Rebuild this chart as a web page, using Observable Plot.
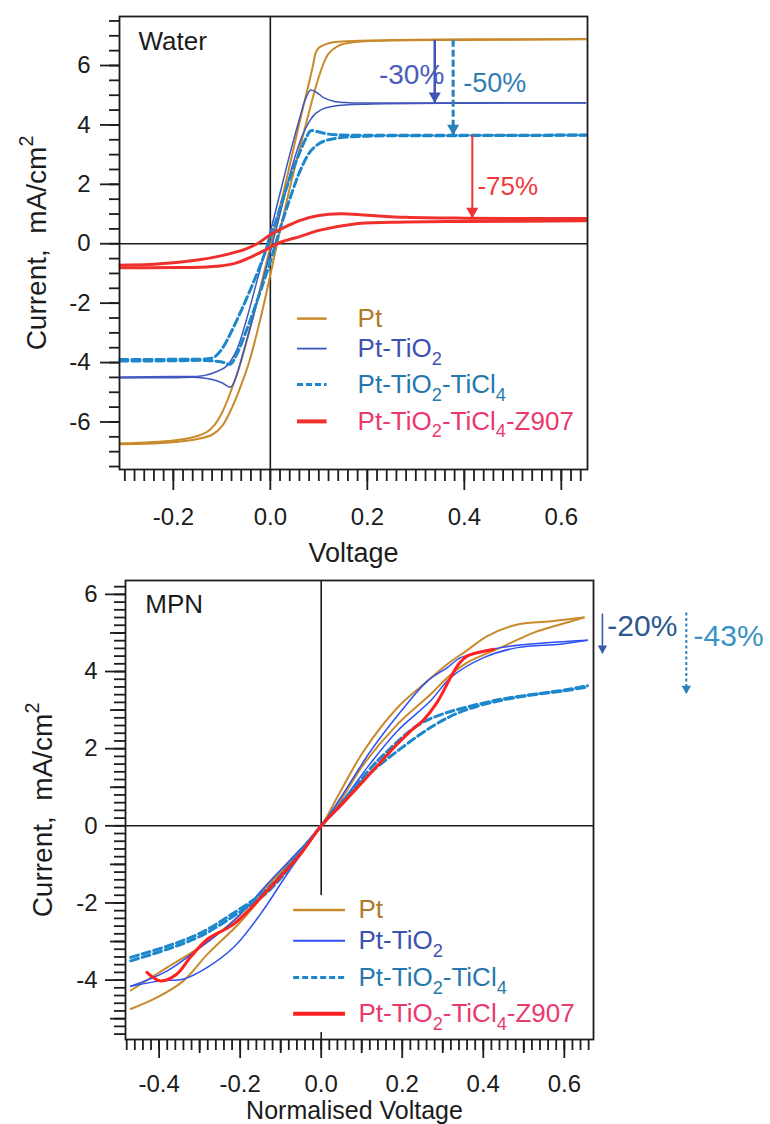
<!DOCTYPE html>
<html>
<head>
<meta charset="utf-8">
<script src="https://cdn.jsdelivr.net/npm/d3@7"></script>
<script src="https://cdn.jsdelivr.net/npm/@observablehq/plot@0.6"></script>
<style>
  body { margin: 0; background: #fff; }
  #chart { position: relative; width: 770px; height: 1124px; overflow: hidden; }
  #chart svg { display: block; }
</style>
</head>
<body>
<div id="chart"></div>
<script>
// ---------------- DATA ----------------
const seriesNames = ["Pt", "Pt-TiO2", "Pt-TiO2-TiCl4", "Pt-TiO2-TiCl4-Z907"];
const legendLabels = ["Pt", "Pt-TiO_{2}", "Pt-TiO_{2}-TiCl_{4}", "Pt-TiO_{2}-TiCl_{4}-Z907"];

// Water panel: voltage (V), current (mA/cm2), two sweep branches per electrode
const waterPtA = [[-0.31,-6.75],[-0.2,-6.68],[-0.15,-6.57],[-0.12,-6.43],[-0.1,-6.15],[-0.08,-5.55],[-0.06,-4.75],[-0.044,-4.0],[-0.02,-2.5],[0.0,-1.05],[0.01,-0.3],[0.042,2.0],[0.073,4.0],[0.095,5.35],[0.107,5.95],[0.12,6.4],[0.14,6.66],[0.17,6.78],[0.25,6.84],[0.4,6.86],[0.65,6.88]];
const waterPtB = [[-0.31,-6.72],[-0.2,-6.62],[-0.15,-6.47],[-0.13,-6.33],[-0.115,-6.1],[-0.1,-5.7],[-0.082,-5.0],[-0.061,-4.0],[-0.03,-2.1],[0.0,-0.1],[0.031,2.0],[0.059,4.0],[0.088,6.0],[0.093,6.4],[0.1,6.6],[0.115,6.72],[0.13,6.78],[0.16,6.82],[0.25,6.86],[0.4,6.88],[0.65,6.89]];
const waterTiO2A = [[-0.31,-4.52],[-0.2,-4.51],[-0.15,-4.5],[-0.12,-4.57],[-0.1,-4.68],[-0.082,-4.83],[-0.07,-4.45],[-0.055,-3.6],[-0.035,-2.45],[-0.01,-0.9],[0.02,1.0],[0.045,2.6],[0.065,3.6],[0.08,4.1],[0.093,4.38],[0.11,4.55],[0.14,4.65],[0.2,4.7],[0.4,4.73],[0.65,4.74]];
const waterTiO2B = [[-0.31,-4.49],[-0.2,-4.47],[-0.137,-4.44],[-0.11,-4.3],[-0.09,-4.12],[-0.07,-3.6],[-0.05,-2.6],[-0.025,-1.1],[0.0,0.4],[0.02,1.7],[0.04,3.0],[0.06,4.2],[0.072,4.85],[0.083,5.17],[0.095,5.1],[0.11,4.92],[0.13,4.8],[0.16,4.75],[0.3,4.74],[0.65,4.75]];
const waterTiCl4A = [[-0.31,-3.95],[-0.2,-3.94],[-0.13,-3.93],[-0.1,-3.98],[-0.082,-4.05],[-0.07,-3.75],[-0.05,-2.95],[-0.03,-2.05],[0.0,-0.6],[0.02,0.5],[0.04,1.5],[0.06,2.4],[0.08,3.05],[0.093,3.28],[0.11,3.45],[0.14,3.56],[0.2,3.62],[0.4,3.64],[0.65,3.65]];
const waterTiCl4B = [[-0.31,-3.9],[-0.2,-3.89],[-0.13,-3.87],[-0.116,-3.82],[-0.1,-3.55],[-0.08,-2.95],[-0.06,-2.25],[-0.04,-1.5],[-0.02,-0.7],[0.0,0.2],[0.02,1.2],[0.04,2.2],[0.06,3.05],[0.075,3.6],[0.083,3.8],[0.1,3.76],[0.12,3.69],[0.15,3.66],[0.3,3.65],[0.65,3.66]];
const waterZ907A = [[-0.31,-0.72],[-0.25,-0.7],[-0.2,-0.64],[-0.15,-0.55],[-0.1,-0.4],[-0.05,-0.17],[-0.027,0.0],[0.0,0.3],[0.03,0.56],[0.06,0.78],[0.1,0.95],[0.145,1.01],[0.2,0.96],[0.28,0.89],[0.4,0.86],[0.65,0.85]];
const waterZ907B = [[-0.31,-0.81],[-0.2,-0.8],[-0.144,-0.79],[-0.1,-0.74],[-0.075,-0.67],[-0.04,-0.45],[-0.006,-0.17],[0.021,0.05],[0.062,0.25],[0.1,0.45],[0.17,0.66],[0.25,0.72],[0.4,0.75],[0.65,0.77]];

// MPN panel: normalised voltage, current (mA/cm2)
const mpnPtA = [[-0.47,-4.27],[-0.38,-3.67],[-0.3,-3.15],[-0.216,-2.46],[-0.15,-1.75],[-0.08,-0.95],[0.0,0.0],[0.04,0.75],[0.105,1.94],[0.188,3.06],[0.253,3.67],[0.311,4.19],[0.36,4.55],[0.41,4.92],[0.484,5.22],[0.574,5.31],[0.648,5.4]];
const mpnPtB = [[-0.47,-4.75],[-0.405,-4.45],[-0.34,-4.02],[-0.28,-3.32],[-0.2,-2.5],[-0.1,-1.25],[0.0,0.0],[0.05,0.7],[0.105,1.6],[0.188,2.63],[0.27,3.41],[0.311,3.84],[0.36,4.23],[0.443,4.62],[0.525,5.01],[0.6,5.25],[0.648,5.4]];
const mpnTiO2A = [[-0.47,-4.16],[-0.38,-3.76],[-0.298,-3.15],[-0.216,-2.46],[-0.133,-1.51],[-0.06,-0.7],[0.0,0.0],[0.048,0.73],[0.122,1.94],[0.204,3.06],[0.262,3.75],[0.311,4.1],[0.344,4.36],[0.443,4.62],[0.566,4.75],[0.657,4.81]];
const mpnTiO2B = [[-0.47,-4.16],[-0.397,-4.02],[-0.339,-3.97],[-0.281,-3.67],[-0.216,-3.15],[-0.15,-2.29],[-0.084,-1.25],[-0.03,-0.45],[0.0,0.0],[0.06,0.75],[0.12,1.6],[0.188,2.46],[0.27,3.24],[0.319,3.84],[0.401,4.36],[0.484,4.62],[0.59,4.71],[0.657,4.81]];
const mpnTiCl4A = [[-0.47,-3.41],[-0.38,-3.12],[-0.298,-2.78],[-0.216,-2.26],[-0.133,-1.64],[-0.068,-0.88],[0.0,0.0],[0.05,0.6],[0.114,1.4],[0.155,1.85],[0.237,2.6],[0.3,2.9],[0.36,3.08],[0.443,3.28],[0.525,3.41],[0.6,3.52],[0.657,3.63]];
const mpnTiCl4B = [[-0.47,-3.5],[-0.38,-3.2],[-0.298,-2.86],[-0.216,-2.34],[-0.133,-1.72],[-0.068,-0.95],[0.0,0.0],[0.05,0.55],[0.114,1.3],[0.196,2.0],[0.278,2.6],[0.35,2.98],[0.443,3.25],[0.525,3.4],[0.6,3.5],[0.657,3.6]];
const mpnZ907 = [[-0.43,-3.8],[-0.397,-4.02],[-0.356,-3.84],[-0.323,-3.41],[-0.281,-2.94],[-0.216,-2.55],[-0.133,-1.68],[-0.051,-0.73],[0.0,0.0],[0.05,0.55],[0.105,1.17],[0.188,2.12],[0.22,2.45],[0.253,2.75],[0.286,3.2],[0.319,3.84],[0.34,4.2],[0.36,4.4],[0.39,4.5],[0.426,4.58]];

// Tick labels
const waterYTicks = [-6, -4, -2, 0, 2, 4, 6];
const waterXTicks = [-0.2, 0.0, 0.2, 0.4, 0.6];
const mpnYTicks = [-4, -2, 0, 2, 4, 6];
const mpnYMidTicks = [-5, -3, -1, 1, 3, 5];
const mpnXTicks = [-0.4, -0.2, 0.0, 0.2, 0.4, 0.6];
const mpnXMidTicks = [-0.3, -0.1, 0.1, 0.3, 0.5];

// Percentage drops annotated on the plots
const waterDropLabels = ["-30%", "-50%", "-75%"];
const mpnDropLabels = ["-20%", "-43%"];

// ---------------- STYLE ----------------
const FONT = "'Liberation Sans', Arial, Helvetica, sans-serif";
const INK = "#1c1c1c";
const TICKFS = 24;
const legendTextColors = ["#b07a28", "#3d52b0", "#2677ad", "#ea3a6c"];
const waterStyles = [
  {stroke: "#c98a2b", width: 2, dash: null},
  {stroke: "#3f56bd", width: 1.5, dash: null},
  {stroke: "#1d87cc", width: 3, dash: "8,4"},
  {stroke: "#f0302c", width: 3, dash: null}
];
const mpnStyles = [
  {stroke: "#c98a2b", width: 2, dash: null},
  {stroke: "#2d50f2", width: 1.5, dash: null},
  {stroke: "#1d87cc", width: 3, dash: "8,4"},
  {stroke: "#ff2020", width: 3, dash: null}
];
const swatchWidths = [2.5, 1.8, 3, 4];

// build long tables
function toRows(curves) {
  const rows = [];
  curves.forEach(([series, branch, pts]) => pts.forEach(([v, i]) => rows.push({series, branch, v, i})));
  return rows;
}
const waterRows = toRows([
  [seriesNames[0], "a", waterPtA], [seriesNames[0], "b", waterPtB],
  [seriesNames[1], "a", waterTiO2A], [seriesNames[1], "b", waterTiO2B],
  [seriesNames[2], "a", waterTiCl4A], [seriesNames[2], "b", waterTiCl4B],
  [seriesNames[3], "a", waterZ907A], [seriesNames[3], "b", waterZ907B]
]);
const mpnRows = toRows([
  [seriesNames[0], "a", mpnPtA], [seriesNames[0], "b", mpnPtB],
  [seriesNames[1], "a", mpnTiO2A], [seriesNames[1], "b", mpnTiO2B],
  [seriesNames[2], "a", mpnTiCl4A], [seriesNames[2], "b", mpnTiCl4B],
  [seriesNames[3], "a", mpnZ907]
]);

function curveMarks(rows, styles) {
  return seriesNames.map((s, k) => Plot.line(rows.filter(d => d.series === s), {
    x: "v", y: "i", z: "branch", stroke: styles[k].stroke, strokeWidth: styles[k].width,
    strokeDasharray: styles[k].dash ?? undefined, curve: "catmull-rom", strokeLinejoin: "round"
  }));
}

function legendMarks(styles, ys, x1, x2, tx) {
  const marks = [];
  seriesNames.forEach((s, k) => {
    const row = [{y: ys[k], x1, x2, tx, label: legendLabels[k]}];
    marks.push(Plot.ruleY(row, {y: "y", x1: "x1", x2: "x2", stroke: styles[k].stroke,
      strokeWidth: swatchWidths[k], strokeDasharray: styles[k].dash ? "6,3" : undefined}));
    marks.push(Plot.text(row, {x: "tx", y: "y", text: "label", fill: legendTextColors[k],
      textAnchor: "start", fontSize: 26}));
  });
  return marks;
}

function arrowMarks(drops) {
  const marks = [];
  drops.forEach(d => {
    const row = [d];
    marks.push(Plot.ruleX(row, {x: "x", y1: "from", y2: "to", stroke: d.color, strokeWidth: d.width,
      strokeDasharray: d.dash ?? undefined}));
    const r = d.head;
    const half = Math.sqrt(Math.PI * r * r / (Math.sqrt(3) * 3));
    marks.push(Plot.dot(row, {x: "x", y: "to", symbol: "triangle", rotate: 180, r, fill: d.color,
      stroke: "none", dy: -2 * half}));
    marks.push(Plot.text(row, {x: "tx", y: "ty", text: "label", fill: d.textColor, textAnchor: "start",
      fontSize: d.size}));
  });
  return marks;
}

const chart = document.getElementById("chart");
const baseStyle = {fontFamily: FONT, fontSize: TICKFS + "px", color: INK, background: "white", overflow: "visible"};

// ---------------- WATER PANEL ----------------
const waterDrops = [
  {label: waterDropLabels[0], x: 0.339, from: 6.85, to: 4.74, color: "#4155b8", textColor: "#4a5cb8", width: 2.5, dash: null, head: 4.5, tx: 0.224, ty: 5.67, size: 28},
  {label: waterDropLabels[1], x: 0.377, from: 6.85, to: 3.65, color: "#2a80bb", textColor: "#2f7fb5", width: 3, dash: "7,3", head: 4.5, tx: 0.398, ty: 5.41, size: 27},
  {label: waterDropLabels[2], x: 0.4165, from: 3.65, to: 0.86, color: "#ee3333", textColor: "#ee3b3b", width: 2, dash: null, head: 4.5, tx: 0.427, ty: 1.91, size: 26}
];

const water = Plot.plot({
  width: 770, height: 565,
  marginLeft: 119, marginRight: 183, marginTop: 16, marginBottom: 96,
  x: {domain: [-0.311, 0.654], label: null},
  y: {domain: [-7.6, 7.65], label: null},
  style: baseStyle,
  marks: [
    Plot.ruleY([0], {stroke: INK, strokeWidth: 1.6}),
    Plot.ruleX([0], {stroke: INK, strokeWidth: 1.6}),
    ...curveMarks(waterRows, waterStyles),
    Plot.frame({stroke: INK, strokeWidth: 1.8}),
    Plot.axisY({ticks: d3.range(-15, 16).map(k => k * 0.5), tickSize: 10, strokeWidth: 1.8, tickFormat: () => "", label: null}),
    Plot.axisY({ticks: waterYTicks, tickSize: 19, strokeWidth: 1.8, tickFormat: () => "", label: null}),
    Plot.axisY({ticks: waterYTicks, tickSize: 0, tickPadding: 29, fontSize: TICKFS, tickFormat: d => String(d), label: null}),
    Plot.axisX({ticks: d3.range(-15, 33).map(k => k * 0.02), tickSize: 12, strokeWidth: 1.8, tickFormat: () => "", label: null}),
    Plot.axisX({ticks: waterXTicks, tickSize: 21, strokeWidth: 1.8, tickFormat: () => "", label: null}),
    Plot.axisX({ticks: waterXTicks, tickSize: 0, tickPadding: 38, fontSize: TICKFS, tickFormat: d => d.toFixed(1), label: null}),
    Plot.text(["Current,\u00a0 mA/cm^{2}"], {frameAnchor: "left", rotate: -90, dx: -82, textAnchor: "middle", lineAnchor: "middle", fontSize: 28, fill: INK}),
    Plot.text(["Voltage"], {frameAnchor: "bottom", dy: 84, textAnchor: "middle", lineAnchor: "middle", fontSize: 27, fill: INK}),
    Plot.text(["Water"], {x: -0.272, y: 6.8, textAnchor: "start", fontSize: 26, fill: INK}),
    ...legendMarks(waterStyles, [-2.52, -3.53, -4.74, -5.98], 0.056, 0.117, 0.18),
    ...arrowMarks(waterDrops)
  ]
});
chart.appendChild(water);

// ---------------- MPN PANEL ----------------
const mpnDrops = [
  {label: mpnDropLabels[0], x: 0.694, from: 5.49, to: 4.46, color: "#3b5ba8", textColor: "#2c578f", width: 1.6, dash: null, head: 3.5, tx: 0.706, ty: 5.18, size: 30},
  {label: mpnDropLabels[1], x: 0.901, from: 5.52, to: 3.42, color: "#2a80bb", textColor: "#3a92c4", width: 2, dash: "3,2.5", head: 3.5, tx: 0.919, ty: 4.9, size: 30}
];

const mpn = Plot.plot({
  width: 770, height: 559,
  marginLeft: 125, marginRight: 177, marginTop: 15, marginBottom: 85,
  x: {domain: [-0.483, 0.672], label: null},
  y: {domain: [-5.54, 6.36], label: null},
  style: baseStyle,
  marks: [
    Plot.ruleY([0], {stroke: INK, strokeWidth: 1.6}),
    Plot.ruleX([0], {stroke: INK, strokeWidth: 1.6}),
    Plot.rect([{x1: -0.02, x2: 0.02, y1: -5.36, y2: -1.81}], {x1: "x1", x2: "x2", y1: "y1", y2: "y2", fill: "white"}),
    ...curveMarks(mpnRows, mpnStyles),
    Plot.frame({stroke: INK, strokeWidth: 1.8}),
    Plot.axisY({ticks: d3.range(-27, 32).map(k => k * 0.2), tickSize: 11, strokeWidth: 1.8, tickFormat: () => "", label: null}),
    Plot.axisY({ticks: mpnYMidTicks, tickSize: 15, strokeWidth: 1.8, tickFormat: () => "", label: null}),
    Plot.axisY({ticks: mpnYTicks, tickSize: 20, strokeWidth: 1.8, tickFormat: () => "", label: null}),
    Plot.axisY({ticks: mpnYTicks, tickSize: 0, tickPadding: 28, fontSize: TICKFS, tickFormat: d => String(d), label: null}),
    Plot.axisX({ticks: d3.range(-24, 34).map(k => k * 0.02), tickSize: 11, strokeWidth: 1.8, tickFormat: () => "", label: null}),
    Plot.axisX({ticks: mpnXMidTicks, tickSize: 14, strokeWidth: 1.8, tickFormat: () => "", label: null}),
    Plot.axisX({ticks: mpnXTicks, tickSize: 19, strokeWidth: 1.8, tickFormat: () => "", label: null}),
    Plot.axisX({ticks: mpnXTicks, tickSize: 0, tickPadding: 35, fontSize: TICKFS, tickFormat: d => d.toFixed(1), label: null}),
    Plot.text(["Current,\u00a0 mA/cm^{2}"], {frameAnchor: "left", rotate: -90, dx: -82, textAnchor: "middle", lineAnchor: "middle", fontSize: 28, fill: INK}),
    Plot.text(["Normalised Voltage"], {frameAnchor: "bottom", dy: 71.5, dx: -5, textAnchor: "middle", lineAnchor: "middle", fontSize: 25, fill: INK}),
    Plot.text(["MPN"], {x: -0.434, y: 5.74, textAnchor: "start", fontSize: 26, fill: INK}),
    ...legendMarks(mpnStyles, [-2.18, -2.98, -3.93, -4.87], -0.068, 0.06, 0.092),
    ...arrowMarks(mpnDrops)
  ]
});
chart.appendChild(mpn);

// ---------------- sub/superscripts in labels ----------------
function richify(svg) {
  svg.querySelectorAll("text").forEach(el => {
    const s = el.textContent;
    if (!/[_^]\{/.test(s)) return;
    const fs = parseFloat(getComputedStyle(el).fontSize) || 22;
    const parts = s.split(/([_^]\{[^}]*\})/).filter(p => p);
    while (el.firstChild) el.removeChild(el.firstChild);
    let offset = 0;
    for (const p of parts) {
      const m = /^([_^])\{([^}]*)\}$/.exec(p);
      const ts = document.createElementNS("http://www.w3.org/2000/svg", "tspan");
      if (m) {
        const target = m[1] === "_" ? 0.3 * fs : -0.48 * fs;
        ts.setAttribute("dy", String(target - offset));
        ts.setAttribute("font-size", (0.7 * fs) + "px");
        ts.textContent = m[2];
        offset = target;
      } else {
        ts.setAttribute("dy", String(-offset));
        ts.textContent = p;
        offset = 0;
      }
      el.appendChild(ts);
    }
  });
}
richify(water);
richify(mpn);
</script>
</body>
</html>
